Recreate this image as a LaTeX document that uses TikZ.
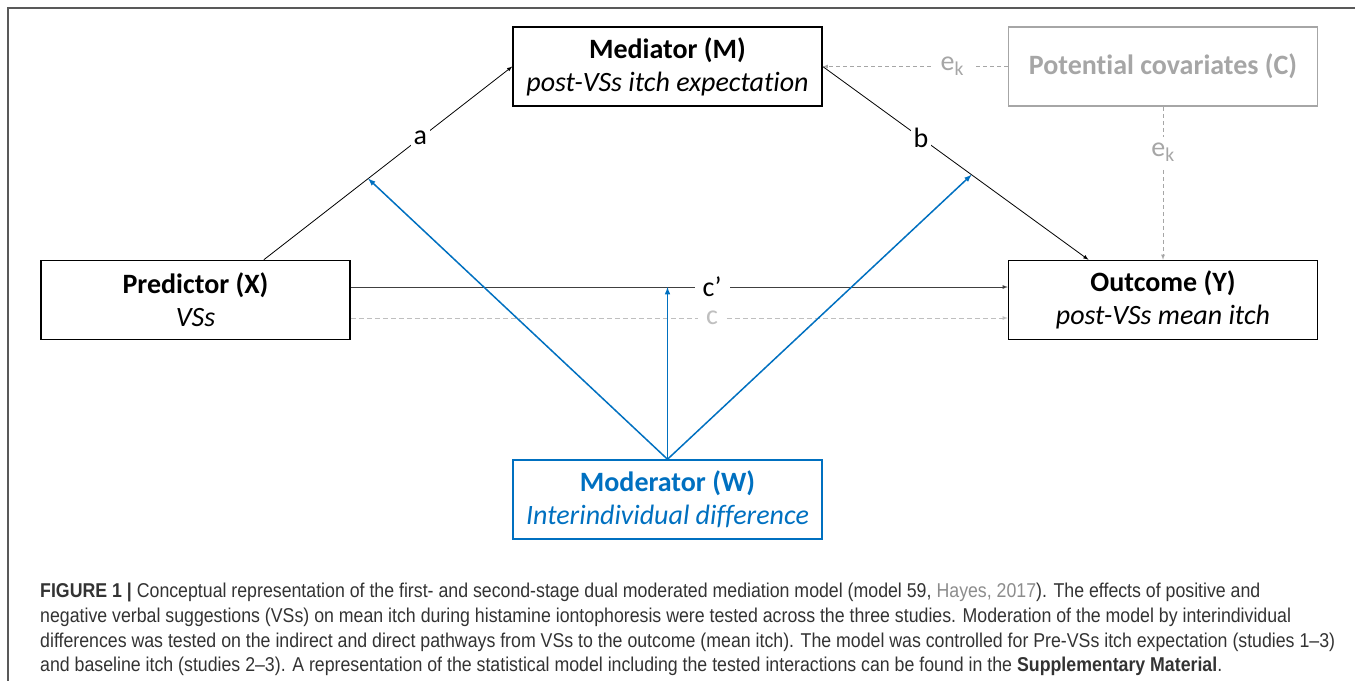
\documentclass[tikz,border=0pt]{standalone}
\usepackage{fontspec}
\setmainfont{Carlito}[Ligatures=NoCommon]
\newfontfamily\capfont[FakeStretch=0.887]{Liberation Sans}
\usetikzlibrary{arrows,calc}
\definecolor{framegray}{HTML}{595959}
\definecolor{covgray}{HTML}{A6A6A6}
\definecolor{cgray}{HTML}{BFBFBF}
\definecolor{modblue}{HTML}{0070C0}
\definecolor{captext}{HTML}{333333}
\definecolor{hayes}{HTML}{8C8C8C}

\begin{document}
\begin{tikzpicture}[x=1pt,y=-1pt,
    box/.style={draw,line width=1.5pt,minimum width=309pt,minimum height=79pt,
      inner sep=0pt,align=center,font=\fontsize{28}{33}\selectfont},
    lbl/.style={fill=white,inner sep=3pt,font=\fontsize{28}{30}\selectfont},
    link/.style={-latex,line width=0.8pt},
    covlink/.style={-latex,line width=0.8pt,covgray,dash pattern=on 4pt off 3pt},
    modlink/.style={-latex,line width=1.5pt,modblue}]
    \useasboundingbox (0,0) rectangle (1355,681);

    % frame
    \draw[framegray,line width=2pt] (1355,8) -- (8,8) -- (8,681);

    % boxes
    \node[box] (M) at (667.5,66.5) {\textbf{Mediator (M)}\\\textit{post-VSs itch expectation}};
    \node[box,draw=covgray,text=covgray] (C) at (1163,66.5) {\textbf{Potential covariates (C)}};
    \node[box] (X) at (195.5,300) {\textbf{Predictor (X)}\\\textit{VSs}};
    \node[box] (Y) at (1163,300) {\textbf{Outcome (Y)}\\\textit{post-VSs mean itch}};
    \node[box,draw=modblue,text=modblue] (W) at (667.5,499.5) {\textbf{Moderator (W)}\\\textit{Interindividual difference}};

    \coordinate (Xa) at ($(X.north west)!0.72!(X.north east)$);
    \coordinate (Yb) at ($(Y.north west)!0.26!(Y.north east)$);
    \coordinate (Xc1) at ($(X.east)+(0,-13)$);
    \coordinate (Yc1) at ($(Y.west)+(0,-13)$);
    \coordinate (Xc) at ($(X.east)+(0,18)$);
    \coordinate (Yc) at ($(Y.west)+(0,18)$);

    % paths a, b, c', c
    \draw[link] (Xa) -- node[lbl,pos=0.63] (la) {a} (M.west);
    \draw[link] (M.east) -- node[lbl,pos=0.37] (lb) {b} (Yb);
    \draw[link,draw=black!75] (Xc1) -- node[lbl,pos=0.55,text=black,inner xsep=8pt] (lc1) {c’} (Yc1);
    \draw[link,cgray,dash pattern=on 5pt off 3pt] (Xc) -- node[lbl,pos=0.55,inner xsep=8pt] (lc) {c} (Yc);

    % covariates
    \draw[covlink] (C.west) -- node[lbl,pos=0.3,inner xsep=10pt] (le1) {e\textsubscript{k}} (M.east);
    \draw[covlink] (C.south) -- node[lbl,pos=0.3,inner ysep=6pt] (le2) {e\textsubscript{k}} (Y.north);

    % moderation
    \coordinate (Wa) at ($(Xa)!0.42!(M.west)$);
    \coordinate (Wb) at ($(M.east)!0.56!(Yb)$);
    \coordinate (Wc) at (W.north |- Xc1);
    \draw[modlink] (W.north) -- (Wa);
    \draw[modlink] (W.north) -- (Wc);
    \draw[modlink] (W.north) -- (Wb);

    % caption
    \node[anchor=north west,align=left,inner sep=0pt,text=captext,
      font=\capfont\fontsize{20}{24.7}\selectfont] (cap) at (40,583)
      {\textbf{FIGURE 1 |} Conceptual representation of the first- and second-stage dual moderated mediation model (model 59, {\color{hayes}Hayes, 2017}). The effects of positive and\\
       negative verbal suggestions (VSs) on mean itch during histamine iontophoresis were tested across the three studies. Moderation of the model by interindividual\\
       differences was tested on the indirect and direct pathways from VSs to the outcome (mean itch). The model was controlled for Pre-VSs itch expectation (studies 1–3)\\
       and baseline itch (studies 2–3). A representation of the statistical model including the tested interactions can be found in the \textbf{Supplementary Material}.};
\end{tikzpicture}
\end{document}
